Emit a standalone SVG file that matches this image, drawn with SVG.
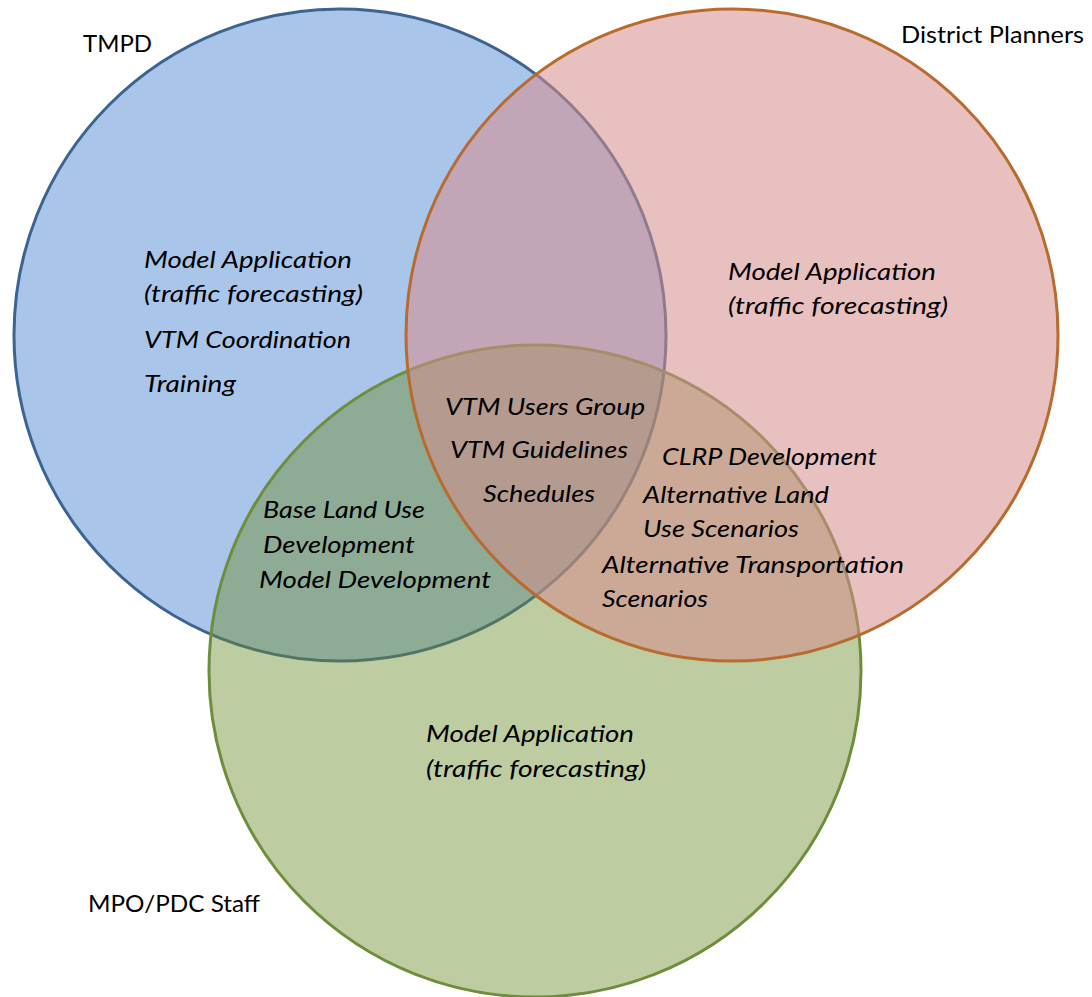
<svg xmlns="http://www.w3.org/2000/svg" width="1092" height="997" viewBox="0 0 1092 997">
  <style>
    .lbl { font-family: "Lato", "Open Sans", "Liberation Sans", sans-serif; font-size: 23px; fill: #000; }
    .it { font-family: "Lato", "Open Sans", "Liberation Sans", sans-serif; font-size: 23px; font-style: italic; fill: #000; }
    .blue { fill: #aac5ea; stroke: #3d6491; stroke-width: 3; }
    .green { fill: #6a8a2c; fill-opacity: 0.44; stroke: #6f8e3b; stroke-width: 3; }
    .red { fill: #d68d8d; fill-opacity: 0.55; stroke: #b86b2d; stroke-width: 3; }
  </style>
  <rect width="1092" height="997" fill="#ffffff"/>

  <g id="tmpd">
    <circle class="blue" cx="340" cy="335" r="326"/>
    <text class="lbl" x="83" y="52" textLength="69" lengthAdjust="spacingAndGlyphs">TMPD</text>
    <text class="it" x="144" y="268" textLength="208" lengthAdjust="spacingAndGlyphs">Model Application</text>
    <text class="it" x="144" y="302" textLength="219" lengthAdjust="spacingAndGlyphs">(traffic forecasting)</text>
    <text class="it" x="144" y="348" textLength="207" lengthAdjust="spacingAndGlyphs">VTM Coordination</text>
    <text class="it" x="144" y="392" textLength="92" lengthAdjust="spacingAndGlyphs">Training</text>
  </g>

  <g id="mpo-pdc-staff">
    <circle class="green" cx="535" cy="671" r="326"/>
    <text class="lbl" x="88" y="912" textLength="172" lengthAdjust="spacingAndGlyphs">MPO/PDC Staff</text>
    <text class="it" x="426" y="742" textLength="208" lengthAdjust="spacingAndGlyphs">Model Application</text>
    <text class="it" x="426" y="777" textLength="220" lengthAdjust="spacingAndGlyphs">(traffic forecasting)</text>
  </g>

  <g id="district-planners">
    <circle class="red" cx="732" cy="335" r="326"/>
    <text class="lbl" x="901" y="43" textLength="183" lengthAdjust="spacingAndGlyphs">District Planners</text>
    <text class="it" x="728" y="280" textLength="208" lengthAdjust="spacingAndGlyphs">Model Application</text>
    <text class="it" x="728" y="314" textLength="220" lengthAdjust="spacingAndGlyphs">(traffic forecasting)</text>
  </g>

  <g id="all-three">
    <text class="it" x="445" y="415" textLength="200" lengthAdjust="spacingAndGlyphs">VTM Users Group</text>
    <text class="it" x="450" y="458" textLength="178" lengthAdjust="spacingAndGlyphs">VTM Guidelines</text>
    <text class="it" x="483" y="502" textLength="112" lengthAdjust="spacingAndGlyphs">Schedules</text>
  </g>

  <g id="tmpd-mpo">
    <text class="it" x="263" y="518" textLength="162" lengthAdjust="spacingAndGlyphs">Base Land Use</text>
    <text class="it" x="263" y="553" textLength="152" lengthAdjust="spacingAndGlyphs">Development</text>
    <text class="it" x="259" y="588" textLength="232" lengthAdjust="spacingAndGlyphs">Model Development</text>
  </g>

  <g id="district-mpo">
    <text class="it" x="662" y="465" textLength="215" lengthAdjust="spacingAndGlyphs">CLRP Development</text>
    <text class="it" x="643" y="503" textLength="186" lengthAdjust="spacingAndGlyphs">Alternative Land</text>
    <text class="it" x="643" y="537" textLength="156" lengthAdjust="spacingAndGlyphs">Use Scenarios</text>
    <text class="it" x="602" y="573" textLength="302" lengthAdjust="spacingAndGlyphs">Alternative Transportation</text>
    <text class="it" x="602" y="607" textLength="106" lengthAdjust="spacingAndGlyphs">Scenarios</text>
  </g>

  <g id="connectors"/>
</svg>
